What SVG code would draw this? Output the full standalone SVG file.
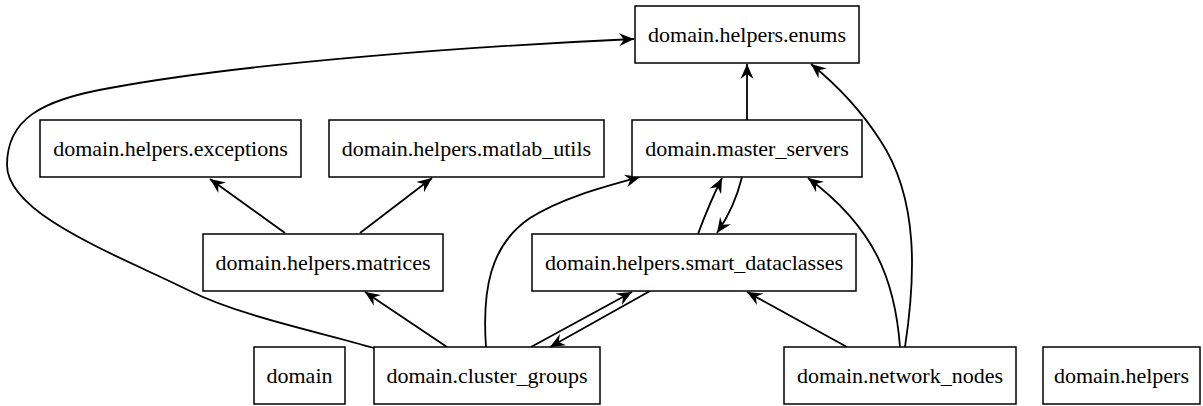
<svg xmlns="http://www.w3.org/2000/svg" width="1203" height="406" viewBox="0 0 1203 406">
<style>
.n rect{fill:#fff;stroke:#000;stroke-width:1.5}
.n text{font-family:'Liberation Serif','Times New Roman',serif;font-size:22px;fill:#000;text-anchor:middle}
.e path{fill:none;stroke:#000;stroke-width:1.8;marker-end:url(#ah)}
</style>
<defs>
<marker id="ah" markerUnits="userSpaceOnUse" markerWidth="17" markerHeight="15" refX="15" refY="6.5" orient="auto" viewBox="0 0 17 13">
<path d="M0,0 L15,6.5 L0,13 L5,6.5 z" fill="#000"/>
</marker>
</defs>
<rect width="1203" height="406" fill="#fff"/>
<g id="edges" class="e">
<path d="M374,348 C320,332 240,316 190,291 C120,256 7,215 7,165 C7,120 40,100 110,88 C250,62 480,46 634,39"/>
<path d="M747,120 L747,64"/>
<path d="M905,347 C915,280 920,200 880,140 C862,112 838,86 811,64"/>
<path d="M900,347 C895,280 875,228 808,178"/>
<path d="M847,347 L747,292"/>
<path d="M285,233 L210,179"/>
<path d="M360,233 L432,178"/>
<path d="M447,347 L365,292"/>
<path d="M486,347 C482,290 490,245 530,218 C562,198 600,188 640,177"/>
<path d="M698,234 C705,215 712,198 722,178"/>
<path d="M742,177 C737,198 730,214 717,233"/>
<path d="M531,347 L632,292"/>
<path d="M650,291 L550,347"/>
</g>
<g id="n_enums" class="n"><rect x="635" y="6" width="224" height="57"/><text x="747" y="42">domain.helpers.enums</text></g>
<g id="n_exceptions" class="n"><rect x="40" y="120" width="261" height="57"/><text x="170.5" y="156">domain.helpers.exceptions</text></g>
<g id="n_matlab_utils" class="n"><rect x="329" y="120" width="275" height="57"/><text x="466.5" y="156">domain.helpers.matlab_utils</text></g>
<g id="n_master_servers" class="n"><rect x="632" y="120" width="230" height="57"/><text x="747" y="156">domain.master_servers</text></g>
<g id="n_matrices" class="n"><rect x="203" y="234" width="240" height="57"/><text x="323" y="270">domain.helpers.matrices</text></g>
<g id="n_smart_dataclasses" class="n"><rect x="532" y="234" width="324" height="57"/><text x="694" y="270">domain.helpers.smart_dataclasses</text></g>
<g id="n_domain" class="n"><rect x="254" y="347" width="91" height="57"/><text x="299.5" y="383">domain</text></g>
<g id="n_cluster_groups" class="n"><rect x="374" y="347" width="226" height="57"/><text x="487" y="383">domain.cluster_groups</text></g>
<g id="n_network_nodes" class="n"><rect x="784" y="347" width="232" height="57"/><text x="900" y="383">domain.network_nodes</text></g>
<g id="n_helpers" class="n"><rect x="1043" y="347" width="157" height="57"/><text x="1121.5" y="383">domain.helpers</text></g>
</svg>
